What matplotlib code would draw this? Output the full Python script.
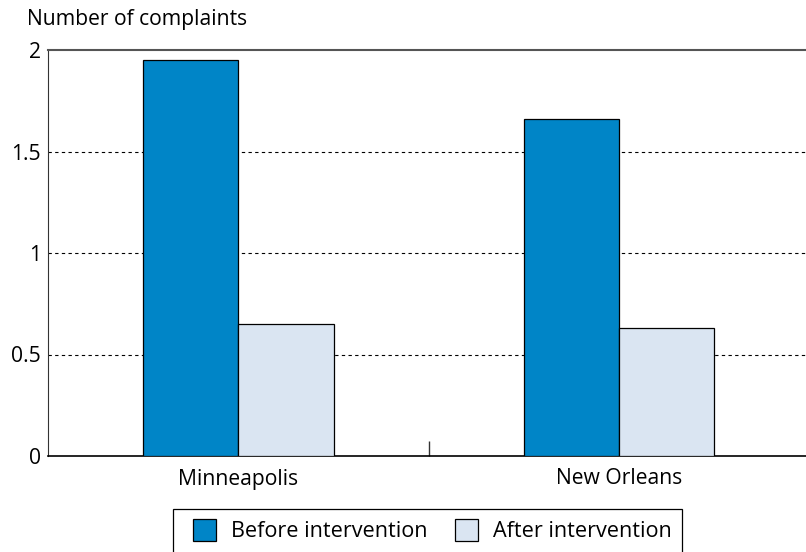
import matplotlib.pyplot as plt
from matplotlib.patches import Rectangle
import numpy as np

plt.rcParams['font.family'] = ['Open Sans', 'DejaVu Sans']

cities = ["Minneapolis", "New Orleans"]
before = [1.95, 1.66]
after = [0.65, 0.63]
series_names = ["Before intervention", "After intervention"]
colors = ["#0085c7", "#dae5f2"]

fs = 15.2
W, H = 806, 552

fig = plt.figure(figsize=(W / 100, H / 100), dpi=100)
# axes spans slightly past the right edge, as in the original
ax = fig.add_axes([48 / W, 1 - 456 / H, 761.5 / W, 406 / H])

x = np.arange(len(cities))
w = 0.25
ax.bar(x - w / 2, before, w, color=colors[0], edgecolor="black", linewidth=0.9,
       label=series_names[0], zorder=3)
ax.bar(x + w / 2, after, w, color=colors[1], edgecolor="black", linewidth=0.9,
       label=series_names[1], zorder=3)

ax.set_xlim(-0.5, 1.5)
ax.set_ylim(0, 2)
ax.set_yticks([0, 0.5, 1, 1.5, 2])
ax.set_yticklabels(["0", "0.5", "1", "1.5", "2"], fontsize=fs)
ax.set_xticks(x)
ax.set_xticklabels(cities, fontsize=fs)
ax.set_xticks([0.5], minor=True)
ax.tick_params(axis="x", which="major", length=0, pad=9)
ax.tick_params(axis="x", which="minor", direction="in", length=11, width=1, color="#333333")
ax.tick_params(axis="y", length=0, pad=5)

for yv in [0.5, 1, 1.5]:
    ax.axhline(yv, color="black", linestyle=(0, (3, 3)), linewidth=0.8, zorder=1)

ax.spines["right"].set_visible(False)
ax.spines["top"].set_color("#555555")
ax.spines["top"].set_linewidth(1.5)
ax.spines["left"].set_color("#333333")
ax.spines["bottom"].set_color("black")
ax.spines["bottom"].set_linewidth(1.2)

fig.text(27 / W, 1 - 20 / H, "Number of complaints", fontsize=fs, va="center", ha="left")

# legend frame drawn by hand so the padding can be wider than tall
fig.patches.append(Rectangle((173 / W, 1 - 560 / H), 509 / W, 51 / H, transform=fig.transFigure,
                             facecolor="white", edgecolor="black", linewidth=0.9, zorder=5))
leg = fig.legend(loc="upper left", bbox_to_anchor=(193 / W, 1 - 519 / H), ncol=2,
                 fontsize=15.6, frameon=False, handlelength=1.06, handleheight=1.15,
                 handletextpad=0.69, columnspacing=1.29, borderpad=0, borderaxespad=0)
leg.set_zorder(6)

fig.savefig("out.png", dpi=100)
